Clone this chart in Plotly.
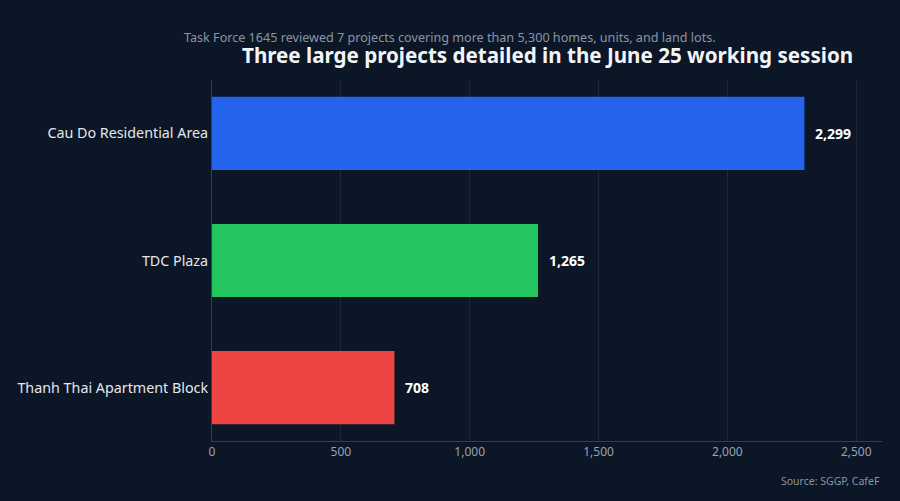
import plotly.graph_objects as go

categories = ["Cau Do Residential Area", "TDC Plaza", "Thanh Thai Apartment Block"]
values = [2299, 1265, 708]
colors = ["#2563eb", "#22c55e", "#ef4444"]
tick_vals = [0, 500, 1000, 1500, 2000, 2500]
tick_text = ["0", "500", "1,000", "1,500", "2,000", "2,500"]

title = "Three large projects detailed in the June 25 working session"
subtitle = "Task Force 1645 reviewed 7 projects covering more than 5,300 homes, units, and land lots."
source = "Source: SGGP, CafeF"

bg = "#0b1627"
font = "Noto Sans"

fig = go.Figure(go.Bar(
    x=values, y=categories, orientation="h",
    marker=dict(color=colors, line=dict(width=0)),
    width=0.575, hoverinfo="skip",
))

for c, v in zip(categories, values):
    fig.add_annotation(x=v, y=c, text=f"<b>{v:,}</b>", showarrow=False,
                       xanchor="left", xshift=9, font=dict(family=font, size=14, color="#ffffff"))

fig.add_annotation(xref="paper", yref="paper", x=0.5, y=1.0, yshift=25, text=f"<b>{title}</b>",
                   showarrow=False, xanchor="center", yanchor="middle",
                   font=dict(family=font, size=20.6, color="#f3f4f6"))
fig.add_annotation(xref="paper", yref="paper", x=(450 - 212) / 670, y=1.0, yshift=42.5, text=subtitle,
                   showarrow=False, xanchor="center", yanchor="middle",
                   font=dict(family=font, size=12.6, color="#8b95a5"))
fig.add_annotation(xref="paper", yref="paper", x=1.0, y=0, yshift=-40, text=source,
                   showarrow=False, xanchor="right", yanchor="middle",
                   font=dict(family=font, size=10.5, color="#8b95a5"))

fig.update_layout(
    width=900, height=501,
    margin=dict(l=212, r=18, t=80, b=60),
    paper_bgcolor=bg, plot_bgcolor=bg,
    showlegend=False,
    font=dict(family=font),
    xaxis=dict(range=[0, 2600], tickvals=tick_vals, ticktext=tick_text,
               showgrid=True, gridcolor="#1c2839", gridwidth=1,
               zeroline=False, showline=True, linecolor="#334155", linewidth=1,
               tickfont=dict(family=font, size=12, color="#9ca3af"), ticks="", ticklen=0),
    yaxis=dict(range=[2.42, -0.42], showgrid=False, zeroline=False,
               showline=True, linecolor="#334155", linewidth=1,
               tickfont=dict(family=font, size=14.3, color="#e5e7eb"), ticks=""),
)

fig.write_html("out.html")
